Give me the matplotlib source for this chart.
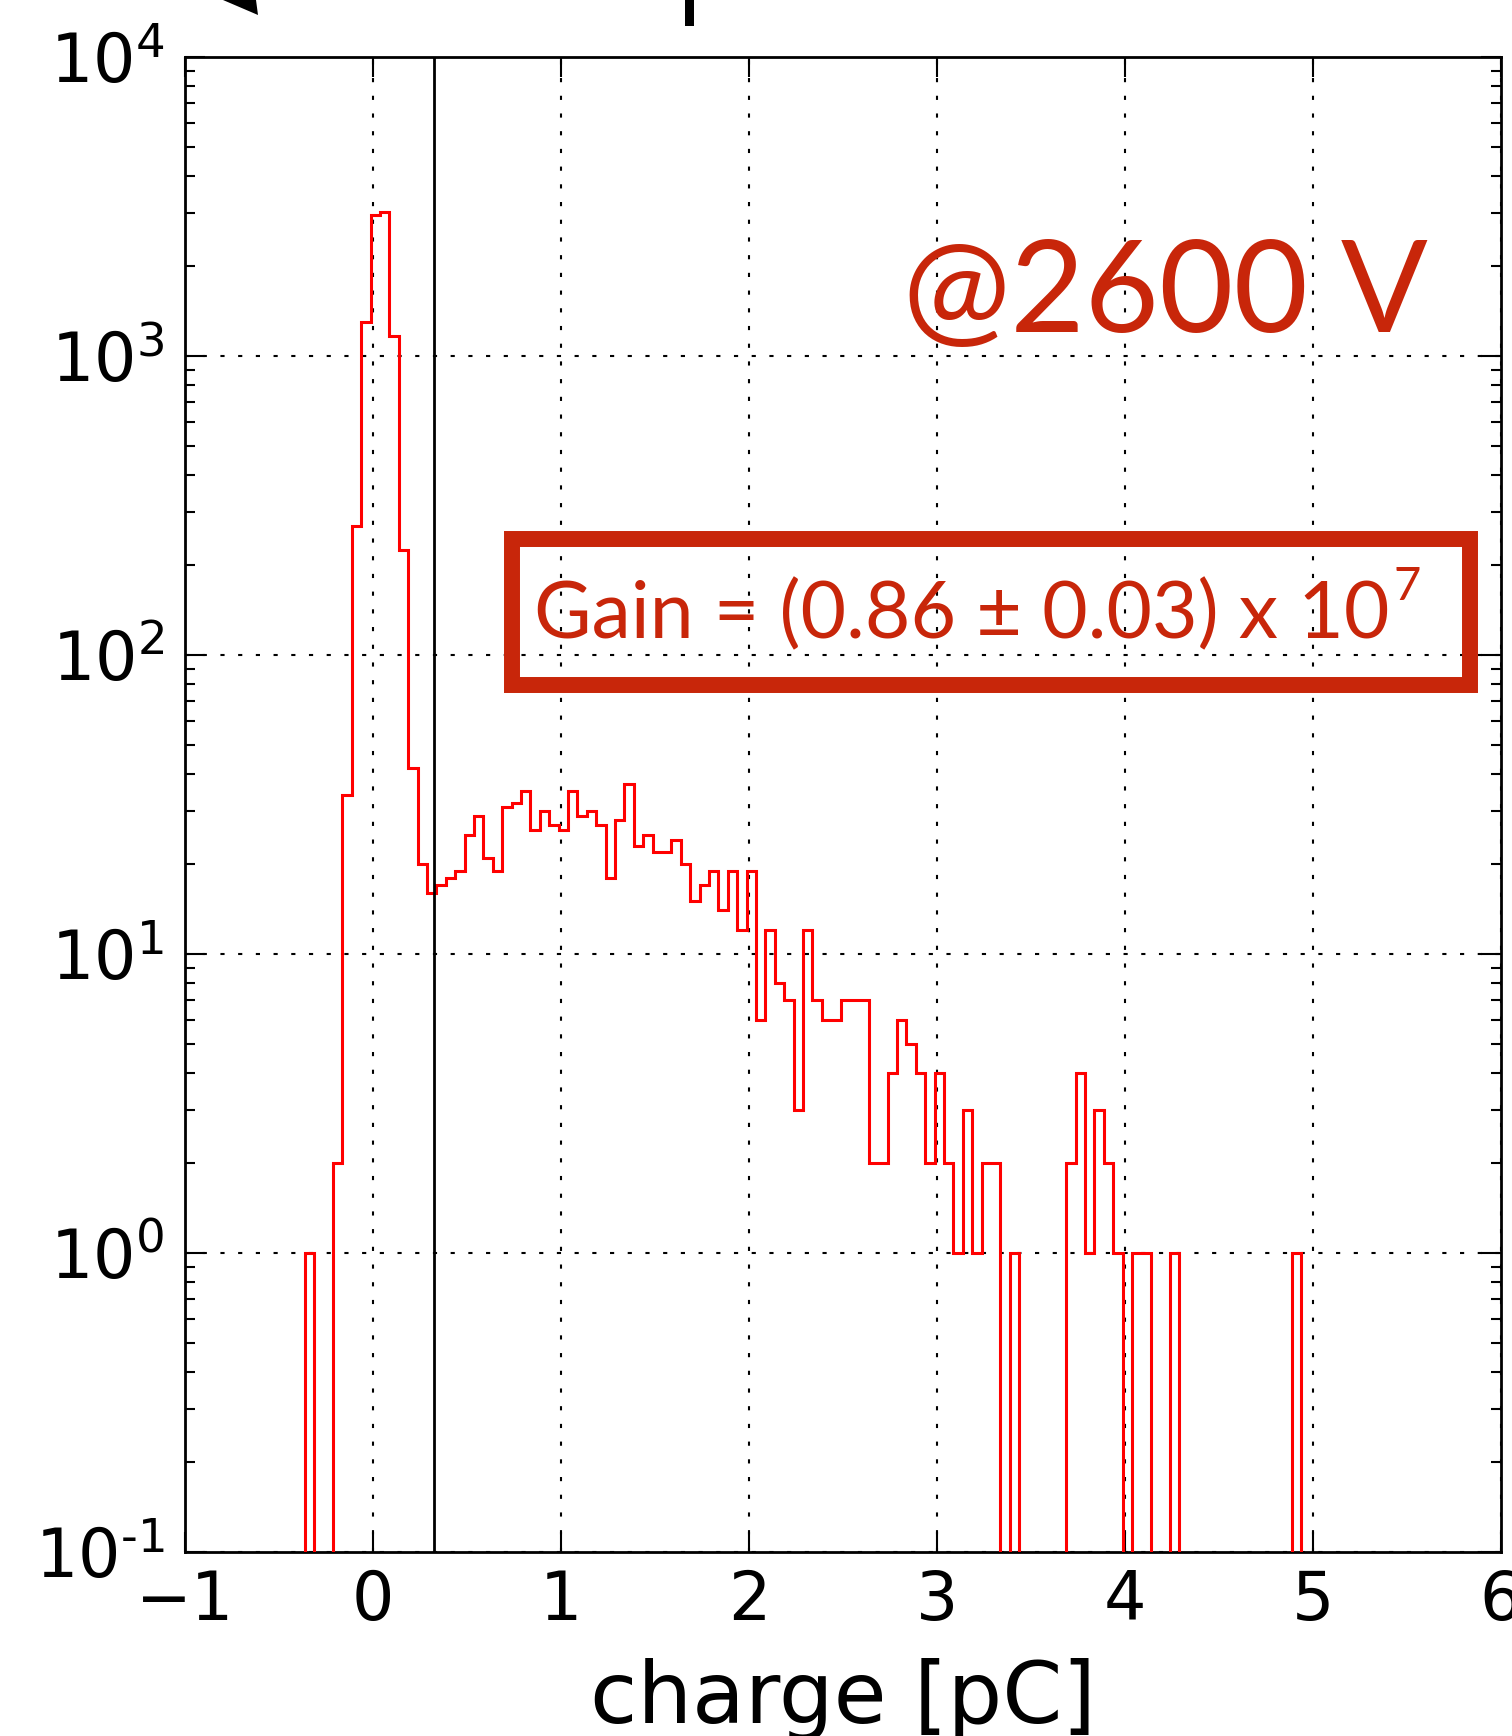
import numpy as np
import matplotlib
matplotlib.use("Agg")
import matplotlib.pyplot as plt
from matplotlib.patches import Rectangle, Polygon
from matplotlib.ticker import FuncFormatter

# ---------------- data ----------------
bin_width = 0.05
first_edge = -0.3625
counts = [
    1, 0, 0, 2, 34, 270, 1300,                      # -0.36 .. -0.01
    2960, 3030, 1170, 224, 42, 20, 16, 17, 18, 19,  # -0.01 .. 0.49
    25, 29, 21, 19, 31, 32, 35, 26, 30, 27,         # 0.49 .. 0.99
    26, 35, 29, 30, 27, 18, 28, 37, 23, 25,         # 0.99 .. 1.49
    22, 22, 24, 20, 15, 17, 19, 14, 19, 12,         # 1.49 .. 1.99
    19, 6, 12, 8, 7, 3, 12, 7, 6, 6,                # 1.99 .. 2.49
    7, 7, 7, 2, 2, 4, 6, 5, 4, 2,                   # 2.49 .. 2.99
    4, 2, 1, 3, 1, 2, 2, 0, 1, 0,                   # 2.99 .. 3.49
    0, 0, 0, 0, 2, 4, 1, 3, 2, 1,                   # 3.49 .. 3.99
    0, 1, 1, 0, 0, 1, 0, 0, 0, 0,                   # 3.99 .. 4.49
    0, 0, 0, 0, 0, 0, 0, 0, 1,                      # 4.49 .. 4.94
]
edges = first_edge + bin_width * np.arange(len(counts) + 1)
threshold = 0.325

x_ticks = [-1, 0, 1, 2, 3, 4, 5, 6]
x_label = "charge [pC]"
voltage_text = "@2600 V"
gain_text = "Gain = (0.86 \u00b1 0.03) x 10"
gain_exp = "7"

# ---------------- figure ----------------
W, H = 1512, 1736
fig = plt.figure(figsize=(W / 100, H / 100), dpi=100)
fig.patch.set_facecolor("white")

def fx(x):
    return x / W

def fy(y):
    return 1 - y / H

ax_left, ax_right, ax_top, ax_bottom = 185, 1501, 57, 1552
ax = fig.add_axes([fx(ax_left), fy(ax_bottom), (ax_right - ax_left) / W,
                   (ax_bottom - ax_top) / H])
ax.set_yscale("log")
ax.set_xlim(-1, 6)
ax.set_ylim(0.1, 1e4)
ax.set_xticks(x_ticks)


def log_label(v, pos):
    e = int(round(np.log10(v)))
    es = r"\text{-}%d" % (-e) if e < 0 else "%d" % e
    return r"$\mathdefault{10^{%s}}$" % es


ax.yaxis.set_major_formatter(FuncFormatter(log_label))

ax.grid(True, which="major", color="k", linestyle=(0, (2, 6.5)), linewidth=1.5)
ax.set_axisbelow(True)

ax.stairs(counts, edges, color="#ff0000", linewidth=2.2, zorder=3)
ax.axvline(threshold, color="k", linewidth=2.0, zorder=4)

for s in ax.spines.values():
    s.set_linewidth(2.0)
ax.tick_params(which="both", direction="in", top=True, right=True)
ax.tick_params(which="major", length=14.5, width=1.5, labelsize=48)
ax.tick_params(axis="x", which="major", pad=11.5)
ax.tick_params(axis="y", which="major", pad=15)
ax.tick_params(which="minor", length=7, width=1.5)
ax.tick_params(axis="x", which="minor", bottom=False, top=False)

ax.set_xlabel(x_label, fontsize=62)
ax.xaxis.set_label_coords(0.5, (ax_bottom - 1723) / (ax_bottom - ax_top))
ax.xaxis.label.set_va("baseline")

# ---------------- slide annotations ----------------
red = "#c8260a"
fam = ["Lato", "DejaVu Sans"]

t_v = fig.text(fx(903), fy(332), voltage_text, color=red, family=fam,
               fontsize=100, ha="left", va="baseline")
t_g = fig.text(fx(534), fy(638), gain_text, color=red, family=fam,
               fontsize=60, ha="left", va="baseline")
fig.canvas.draw()
r = fig.canvas.get_renderer()
bb = t_v.get_window_extent(r)
t_v.set_fontsize(100 * 525 / bb.width)
bb = t_g.get_window_extent(r)
t_g.set_fontsize(60 * 856 / bb.width)
fig.canvas.draw()
bb = t_g.get_window_extent(r)
x_end = bb.x1  # display px from left
fig.text(x_end / W + 4 / W, fy(600), gain_exp, color=red, family=fam,
         fontsize=34, ha="left", va="baseline")

box = Rectangle((fx(512), fy(685)), (1470 - 512) / W, (685 - 539) / H,
                transform=fig.transFigure, fill=False, edgecolor=red,
                linewidth=11.5, joinstyle="miter", zorder=5)
fig.add_artist(box)

# cut-off arrow remnants at the top of the slide
tri = Polygon([(fx(223), fy(0)), (fx(256), fy(0)), (fx(258), fy(15))],
              closed=True, transform=fig.transFigure, facecolor="k",
              edgecolor="none")
fig.add_artist(tri)
bar = Rectangle((fx(685), fy(26)), 9 / W, 26 / H, transform=fig.transFigure,
                facecolor="k", edgecolor="none")
fig.add_artist(bar)

fig.savefig("out.png", dpi=100)
